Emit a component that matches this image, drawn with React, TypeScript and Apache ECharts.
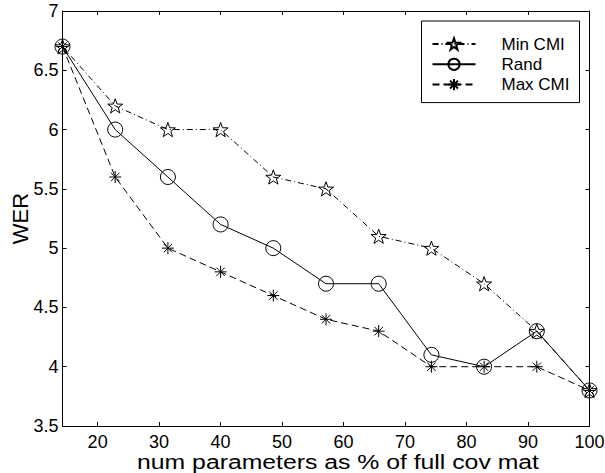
import React, { useEffect, useRef } from "react";
import * as echarts from "echarts";

const xValues = [14.2857, 22.857, 31.429, 40, 48.571, 57.143, 65.714, 74.286, 82.857, 91.429, 100];
const minCMI = [6.7, 6.2, 6.0, 6.0, 5.6, 5.5, 5.1, 5.0, 4.7, 4.3, 3.8];
const rand = [6.7, 6.0, 5.6, 5.2, 5.0, 4.7, 4.7, 4.1, 4.0, 4.3, 3.8];
const maxCMI = [6.7, 5.6, 5.0, 4.8, 4.6, 4.4, 4.3, 4.0, 4.0, 4.0, 3.8];
const xTicks = [20, 30, 40, 50, 60, 70, 80, 90, 100];
const seriesNames = ["Min CMI", "Rand", "Max CMI"];
const xTitle = "num parameters as % of full cov mat";
const yTitle = "WER";

const STAR =
  "path://M0,-10L2.35,-3.24L9.51,-3.09L3.8,1.24L5.88,8.09L0,4L-5.88,8.09L-3.8,1.24L-9.51,-3.09L-2.35,-3.24Z";
const ASTER =
  "path://M0,-10L0,10M-10,0L10,0M-7.07,-7.07L7.07,7.07M-7.07,7.07L7.07,-7.07";

const FONT = "Liberation Sans, Arial, Helvetica, sans-serif";

export default function App() {
  const ref = useRef<HTMLDivElement>(null);
  useEffect(() => {
    if (!ref.current) return;
    const chart = echarts.init(ref.current, null, { renderer: "svg" });
    const pair = (ys: number[]) => xValues.map((x, i) => [x, ys[i]]);
    const markerStyle = { color: "transparent", borderColor: "#000", borderWidth: 1 };
    const xCommon = {
      type: "value",
      min: 14.2857,
      max: 100,
      axisLine: { show: true, onZero: false, lineStyle: { color: "#000", width: 1 } },
      splitLine: { show: false },
    };
    const yCommon = {
      type: "value",
      min: 3.5,
      max: 7,
      interval: 0.5,
      axisLine: { show: true, onZero: false, lineStyle: { color: "#000", width: 1 } },
      splitLine: { show: false },
    };
    chart.setOption({
      animation: false,
      backgroundColor: "#fff",
      textStyle: { fontFamily: FONT },
      grid: { left: 62.5, right: 15.5, top: 11, bottom: 47, containLabel: false, outerBoundsMode: "none" },
      legend: {
        orient: "vertical",
        left: 421.5,
        top: 21,
        data: seriesNames,
        itemWidth: 43,
        itemHeight: 14,
        itemGap: 3.3,
        padding: [14.5, 10, 9.5, 10],
        borderColor: "#000",
        borderWidth: 1,
        backgroundColor: "#fff",
        textStyle: { fontSize: 17, color: "#000", fontFamily: FONT, padding: [0, 0, 0, 21] },
      },
      graphic: [
        {
          type: "text",
          x: 338,
          y: 461.5,
          scaleX: 1.18,
          style: {
            text: xTitle,
            font: "21px " + FONT,
            fill: "#000",
            textAlign: "center",
            textVerticalAlign: "middle",
          },
        },
      ],
      xAxis: [
        {
          ...xCommon,
          position: "bottom",
          axisTick: { show: true, inside: true, length: 4, customValues: xTicks, lineStyle: { color: "#000" } },
          axisLabel: {
            show: true,
            customValues: xTicks,
            fontSize: 18,
            lineHeight: 16,
            color: "#000",
            margin: 8.3,
            fontFamily: FONT,
          },
        },
        {
          ...xCommon,
          position: "top",
          axisTick: { show: true, inside: true, length: 4, customValues: xTicks, lineStyle: { color: "#000" } },
          axisLabel: { show: false },
        },
      ],
      yAxis: [
        {
          ...yCommon,
          position: "left",
          name: yTitle,
          nameLocation: "middle",
          nameGap: 31.5,
          nameMoveOverlap: false,
          nameTextStyle: { fontSize: 22, color: "#000", fontFamily: FONT },
          axisTick: { show: true, inside: true, length: 4, lineStyle: { color: "#000" } },
          axisLabel: { show: true, fontSize: 18, color: "#000", margin: 4, fontFamily: FONT },
        },
        {
          ...yCommon,
          position: "right",
          axisTick: { show: true, inside: true, length: 4, lineStyle: { color: "#000" } },
          axisLabel: { show: false },
        },
      ],
      series: [
        {
          name: seriesNames[0],
          type: "line",
          data: pair(minCMI),
          symbol: STAR,
          symbolSize: 15,
          symbolKeepAspect: true,
          itemStyle: markerStyle,
          lineStyle: { color: "#000", width: 1, type: [6, 3, 1, 3] },
          z: 3,
        },
        {
          name: seriesNames[1],
          type: "line",
          data: pair(rand),
          symbol: "circle",
          symbolSize: 15,
          itemStyle: markerStyle,
          lineStyle: { color: "#000", width: 1, type: "solid" },
          z: 3,
        },
        {
          name: seriesNames[2],
          type: "line",
          data: pair(maxCMI),
          symbol: ASTER,
          symbolSize: 12,
          symbolKeepAspect: true,
          itemStyle: markerStyle,
          lineStyle: { color: "#000", width: 1, type: [7, 4] },
          z: 3,
        },
      ],
    });
    return () => chart.dispose();
  }, []);
  return <div ref={ref} style={{ width: 605, height: 473, position: "absolute", left: 0, top: 0 }} />;
}
